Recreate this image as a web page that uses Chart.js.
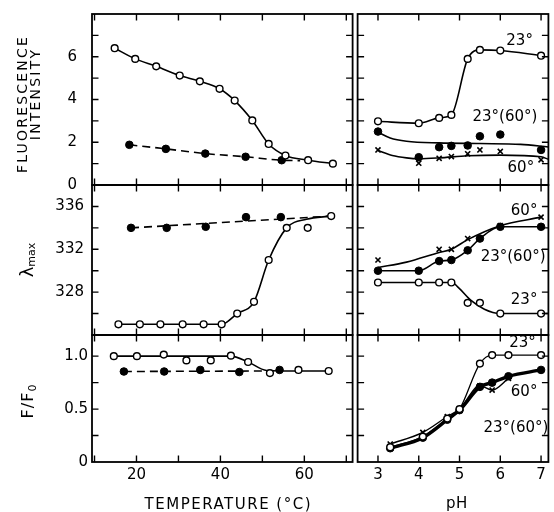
<!DOCTYPE html>
<html><head><meta charset="utf-8">
<script src="https://cdn.jsdelivr.net/npm/chart.js@4.4.1/dist/chart.umd.min.js"></script>
<style>
html,body{margin:0;padding:0;background:#fff;}
#wrap{position:relative;width:554px;height:512px;overflow:hidden;background:#fff;}
#wrap canvas{position:absolute;}
</style></head><body><div id="wrap"></div>
<script>
// ---------- ticks & tick labels ----------
const tempTicks = [10, 20, 30, 40, 50, 60, 70];
const tempLabels = [20, 40, 60];
const pHTicks = [3, 4, 5, 6, 7];
const pHLabels = [3, 4, 5, 6, 7];
const flTicks = [1, 2, 3, 4, 5, 6, 7];
const flLabels = [0, 2, 4, 6];
const lamTicks = [326, 328, 330, 332, 334, 336];
const lamLabels = [328, 332, 336];
const ffTicks = [0.25, 0.5, 0.75, 1.0];
const ffLabels = [0, 0.5, 1.0];

// ---------- fluorescence intensity vs temperature ----------
const flT_openT = [14.8, 19.7, 24.7, 30.3, 35.1, 39.8, 43.4, 47.6, 51.5, 55.5, 60.9, 66.8];
const flT_openV = [6.4, 5.9, 5.55, 5.12, 4.85, 4.5, 3.95, 3.02, 1.92, 1.38, 1.16, 1.0];
const flT_fillT = [18.3, 27.0, 36.4, 46.0, 54.6];
const flT_fillV = [1.88, 1.69, 1.47, 1.32, 1.16];
const flT_dashT = [18.3, 27.0, 36.4, 46.0, 54.6, 59.0];
const flT_dashV = [1.88, 1.69, 1.47, 1.32, 1.16, 1.14];

// ---------- lambda max vs temperature ----------
const lamT_openT = [15.7, 20.8, 25.7, 31.0, 36.0, 40.3, 44.0, 48.0, 51.5, 55.8, 60.8, 66.4];
const lamT_openV = [325, 325, 325, 325, 325, 325, 326, 327.1, 331, 334, 334, 335.1];
const lamT_curveT = [15.7, 40.3, 44.0, 48.0, 51.5, 55.8, 60.5, 66.4];
const lamT_curveV = [325, 325, 326, 327.1, 331, 334, 334.8, 335.1];
const lamT_fillT = [18.7, 27.2, 36.5, 46.1, 54.4];
const lamT_fillV = [334, 334, 334.1, 335, 335];
const lamT_dashT = [18.7, 66.4];
const lamT_dashV = [334, 335.1];

// ---------- F/F0 vs temperature ----------
const ffT_openT = [14.6, 20.1, 26.5, 31.9, 37.7, 42.5, 46.6, 51.8, 58.6, 65.8];
const ffT_openV = [1.0, 1.0, 1.015, 0.96, 0.96, 1.005, 0.945, 0.84, 0.87, 0.86];
const ffT_curveT = [14.6, 42.5, 46.6, 51.0, 58.6, 65.8];
const ffT_curveV = [1.0, 1.0, 0.945, 0.865, 0.86, 0.86];
const ffT_fillT = [17.0, 26.6, 35.2, 44.5, 54.1];
const ffT_fillV = [0.855, 0.855, 0.87, 0.85, 0.87];
const ffT_dashT = [17.0, 51.0];
const ffT_dashV = [0.855, 0.86];

// ---------- fluorescence intensity vs pH ----------
const pH8 = [3, 4, 4.5, 4.8, 5.2, 5.5, 6, 7];
const flP_23 = [2.98, 2.89, 3.14, 3.28, 5.9, 6.32, 6.29, 6.05];
const flP_2360 = [2.50, 1.30, 1.77, 1.83, 1.85, 2.28, 2.36, 1.64];
const flP_2360_curveP = [3.0, 3.3, 3.7, 4.5, 5.5, 6.5, 7.18];
const flP_2360_curveV = [2.47, 2.2, 2.05, 1.97, 1.94, 1.9, 1.78];
const flP_60 = [1.64, 1.02, 1.25, 1.33, 1.46, 1.64, 1.57, 1.18];
const flP_60_curveP = [3.0, 3.35, 3.7, 4.0, 4.5, 5.2, 6.0, 7.0, 7.18];
const flP_60_curveV = [1.61, 1.38, 1.27, 1.23, 1.27, 1.37, 1.4, 1.32, 1.2];

// ---------- lambda max vs pH ----------
const lamP_23 = [328.9, 328.9, 328.9, 328.9, 327, 327, 326, 326];
const lamP_23_curveP = [3, 4.81, 4.98, 5.29, 5.61, 5.99, 7.18];
const lamP_23_curveV = [328.9, 328.9, 328.4, 327.2, 326.4, 326.0, 326.0];
const lamP_2360 = [330, 330, 330.9, 331, 331.9, 333, 334.1, 334.1];
const pH_lam60 = [3, 4.5, 4.8, 5.2, 6, 7];
const lamP_60 = [331, 332, 332, 333, 334.2, 335];
const lamP_60_curveP = [3, 3.7, 4.5, 4.8, 5.2, 6, 7];
const lamP_60_curveV = [330.3, 330.8, 331.7, 332.0, 332.9, 334.2, 335.0];

// ---------- F/F0 vs pH ----------
const pH_ff = [3.3, 4.1, 4.7, 5.0, 5.5, 5.8, 6.2, 7.0];
const ffP_23 = [0.14, 0.24, 0.41, 0.5, 0.93, 1.01, 1.01, 1.01];
const ffP_2360 = [0.13, 0.23, 0.40, 0.49, 0.71, 0.75, 0.81, 0.87];
const pH_ff60 = [3.3, 4.1, 4.7, 5.0, 5.5, 5.8, 6.2];
const ffP_60 = [0.17, 0.28, 0.43, 0.5, 0.72, 0.68, 0.79];

// ---------- layout ----------
const LX0 = 92, LX1 = 355, RX1 = 553;
const ROWS = [[14, 185], [185, 335], [335, 462]];
const M = 30;
const FONT = '"DejaVu Sans", "Liberation Sans", sans-serif';
Chart.defaults.font.family = FONT;
Chart.defaults.color = '#000';

const P = (xs, ys) => xs.map((x, i) => ({x: x, y: ys[i]}));
const open = (xs, ys) => ({data: P(xs, ys), showLine: false, pointStyle: 'circle', pointRadius: 3.4,
  pointBackgroundColor: '#fff', pointBorderColor: '#000', pointBorderWidth: 1.4});
const filled = (xs, ys) => ({data: P(xs, ys), showLine: false, pointStyle: 'circle', pointRadius: 3.8,
  pointBackgroundColor: '#000', pointBorderColor: '#000', pointBorderWidth: 1});
const cross = (xs, ys) => ({data: P(xs, ys), showLine: false, pointStyle: 'crossRot', pointRadius: 3.6,
  pointBorderColor: '#000', pointBorderWidth: 1.6});
const line = (xs, ys, opt) => Object.assign({data: P(xs, ys), showLine: true, pointRadius: 0,
  borderColor: '#000', borderWidth: 1.6, cubicInterpolationMode: 'monotone', fill: false}, opt || {});

function vText(ctx, parts, x, y) {
  ctx.save();
  ctx.translate(x, y);
  ctx.rotate(-Math.PI / 2);
  ctx.textBaseline = 'alphabetic';
  ctx.textAlign = 'left';
  let w = 0;
  parts.forEach(p => { ctx.font = p.size + 'px ' + FONT; ctx.letterSpacing = (p.ls || 0) + 'px'; p.w = ctx.measureText(p.t).width; w += p.w; });
  let cx = -w / 2;
  parts.forEach(p => { ctx.font = p.size + 'px ' + FONT; ctx.letterSpacing = (p.ls || 0) + 'px'; ctx.fillText(p.t, cx, p.dy || 0); cx += p.w; });
  ctx.restore();
}
function hText(ctx, t, size, ls, x, y) {
  ctx.save();
  ctx.font = size + 'px ' + FONT;
  ctx.letterSpacing = ls + 'px';
  ctx.textAlign = 'center';
  ctx.textBaseline = 'middle';
  ctx.fillText(t, x, y);
  ctx.restore();
}

function decor(spec) {
  return {
    id: 'decor',
    afterDraw(chart) {
      const ctx = chart.ctx, a = chart.chartArea, sx = chart.scales.x, sy = chart.scales.y;
      ctx.save();
      ctx.strokeStyle = '#000';
      ctx.lineWidth = 1.8;
      ctx.strokeRect(a.left, a.top, a.right - a.left, a.bottom - a.top);
      ctx.lineWidth = 1.4;
      ctx.beginPath();
      const T = 6.5;
      spec.xTicks.forEach(v => {
        const p = sx.getPixelForValue(v);
        if (p < a.left + 2 || p > a.right - 2) return;
        ctx.moveTo(p, a.bottom); ctx.lineTo(p, a.bottom - T);
        ctx.moveTo(p, a.top); ctx.lineTo(p, a.top + T);
      });
      spec.yTicks.forEach(v => {
        const p = sy.getPixelForValue(v);
        if (p < a.top + 2 || p > a.bottom - 2) return;
        ctx.moveTo(a.left, p); ctx.lineTo(a.left + T, p);
        ctx.moveTo(a.right, p); ctx.lineTo(a.right - T, p);
      });
      ctx.stroke();
      ctx.fillStyle = '#000';
      ctx.font = '15px ' + FONT;
      ctx.textAlign = 'right';
      ctx.textBaseline = 'middle';
      (spec.notes || []).forEach(n => ctx.fillText(n.text, sx.getPixelForValue(n.x), sy.getPixelForValue(n.y)));
      if (spec.extra) spec.extra(ctx, a);
      ctx.restore();
    }
  };
}

function panel(s) {
  const [top, bot] = ROWS[s.row];
  const left = s.col === 0 ? 0 : LX1 - 3;
  const width = s.col === 0 ? LX1 + 3 : 554 - left;
  const ctop = top - M;
  const height = s.row < 2 ? bot + M - ctop : 512 - ctop;
  const c = document.createElement('canvas');
  c.width = width; c.height = height;
  c.style.left = left + 'px'; c.style.top = ctop + 'px';
  c.style.width = width + 'px'; c.style.height = height + 'px';
  document.getElementById('wrap').appendChild(c);
  const showX = s.row === 2, showY = s.col === 0;
  new Chart(c, {
    type: 'scatter',
    data: {datasets: s.datasets},
    options: {
      responsive: false, animation: false, devicePixelRatio: 1, events: [],
      layout: {padding: {top: M, bottom: s.row < 2 ? M : 0, left: s.col === 0 ? 0 : 3, right: s.col === 0 ? 3 : 554 - RX1}},
      plugins: {legend: {display: false}, tooltip: {enabled: false}},
      scales: {
        x: {
          type: 'linear', min: s.xr[0], max: s.xr[1], display: showX,
          grid: {display: false, drawTicks: false}, border: {display: false},
          ticks: {font: {size: 15, family: FONT}, color: '#000', padding: 4, maxRotation: 0, autoSkip: false},
          afterBuildTicks: sc => { sc.ticks = s.xLabels.map(v => ({value: v})); },
          afterFit: sc => { if (showX) sc.height = 512 - ROWS[2][1]; }
        },
        y: {
          type: 'linear', min: s.yr[0], max: s.yr[1], display: showY,
          grid: {display: false, drawTicks: false}, border: {display: false},
          ticks: {font: {size: 15, family: FONT}, color: '#000', padding: s.ypad || 4, autoSkip: false,
            callback: v => s.yFmt ? s.yFmt(v) : String(v)},
          afterBuildTicks: sc => { sc.ticks = s.yLabels.map(v => ({value: v})); },
          afterFit: sc => { if (showY) sc.width = LX0; }
        }
      }
    },
    plugins: [decor(s)]
  });
}

const TEMP = [9.4, 71.5], PH = [2.5, 7.18];
const FL = [0, 8], LAM = [324, 338], FF = [0, 1.2];

panel({row: 0, col: 0, xr: TEMP, yr: FL, xTicks: tempTicks, xLabels: tempLabels, yTicks: flTicks, yLabels: flLabels, ypad: 15,
  datasets: [open(flT_openT, flT_openV), filled(flT_fillT, flT_fillV),
    line(flT_openT, flT_openV), line(flT_dashT, flT_dashV, {borderDash: [8, 5]})],
  extra: (ctx, a) => {
    vText(ctx, [{t: 'FLUORESCENCE', size: 14, ls: 2.2}], 27, a.top + 90);
    vText(ctx, [{t: 'INTENSITY', size: 14, ls: 2.2}], 40, a.top + 80);
  }});
panel({row: 0, col: 1, xr: PH, yr: FL, xTicks: pHTicks, xLabels: pHLabels, yTicks: flTicks, yLabels: flLabels,
  datasets: [open(pH8, flP_23), filled(pH8, flP_2360), cross(pH8, flP_60),
    line(pH8, flP_23), line(flP_2360_curveP, flP_2360_curveV), line(flP_60_curveP, flP_60_curveV)],
  notes: [{text: '23°', x: 6.80, y: 6.75}, {text: '23°(60°)', x: 6.91, y: 3.17}, {text: '60°', x: 6.83, y: 0.77}]});

panel({row: 1, col: 0, xr: TEMP, yr: LAM, xTicks: tempTicks, xLabels: tempLabels, yTicks: lamTicks, yLabels: lamLabels, ypad: 8,
  datasets: [open(lamT_openT, lamT_openV), filled(lamT_fillT, lamT_fillV),
    line(lamT_curveT, lamT_curveV), line(lamT_dashT, lamT_dashV, {borderDash: [8, 5], cubicInterpolationMode: 'default', tension: 0})],
  extra: (ctx, a) => {
    vText(ctx, [{t: 'λ', size: 18}, {t: 'max', size: 11, dy: 2}], 33, (a.top + a.bottom) / 2);
  }});
panel({row: 1, col: 1, xr: PH, yr: LAM, xTicks: pHTicks, xLabels: pHLabels, yTicks: lamTicks, yLabels: lamLabels,
  datasets: [open(pH8, lamP_23), filled(pH8, lamP_2360), cross(pH_lam60, lamP_60),
    line(lamP_23_curveP, lamP_23_curveV), line(pH8, lamP_2360), line(lamP_60_curveP, lamP_60_curveV)],
  notes: [{text: '60°', x: 6.91, y: 335.6}, {text: '23°(60°)', x: 7.11, y: 331.3}, {text: '23°', x: 6.91, y: 327.3}]});

panel({row: 2, col: 0, xr: TEMP, yr: FF, xTicks: tempTicks, xLabels: tempLabels, yTicks: ffTicks, yLabels: ffLabels, ypad: 4,
  yFmt: v => v === 0 ? '0' : v.toFixed(1),
  datasets: [open(ffT_openT, ffT_openV), filled(ffT_fillT, ffT_fillV),
    line(ffT_curveT, ffT_curveV), line(ffT_dashT, ffT_dashV, {borderDash: [8, 5]})],
  extra: (ctx, a) => {
    vText(ctx, [{t: 'F/F', size: 16, ls: 1}, {t: '0', size: 11, dy: 3}], 33, (a.top + a.bottom) / 2 + 3);
    hText(ctx, 'TEMPERATURE (°C)', 15, 1.5, (a.left + a.right) / 2 + 6, a.bottom + 43);
  }});
panel({row: 2, col: 1, xr: PH, yr: FF, xTicks: pHTicks, xLabels: pHLabels, yTicks: ffTicks, yLabels: ffLabels,
  datasets: [open(pH_ff, ffP_23), filled(pH_ff, ffP_2360), cross(pH_ff60, ffP_60),
    line(pH_ff, ffP_23, {borderWidth: 1.3}), line(pH_ff, ffP_2360, {borderWidth: 3.4}), line(pH_ff60, ffP_60, {borderWidth: 1.4})],
  notes: [{text: '23°', x: 6.87, y: 1.12}, {text: '60°', x: 6.91, y: 0.665}, {text: '23°(60°)', x: 7.18, y: 0.32}],
  extra: (ctx, a) => {
    hText(ctx, 'pH', 15, 0.5, (a.left + a.right) / 2 + 4, a.bottom + 42);
  }});
</script>
</body></html>
